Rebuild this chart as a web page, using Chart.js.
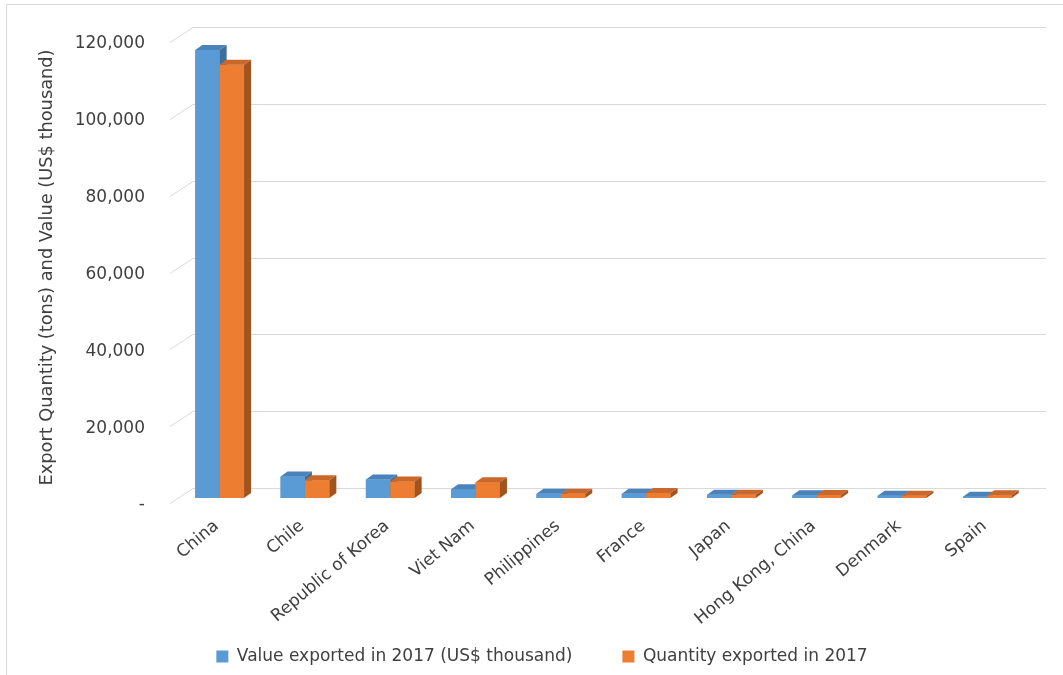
<!DOCTYPE html>
<html>
<head>
<meta charset="utf-8">
<script src="https://cdn.jsdelivr.net/npm/chart.js@4.4.0/dist/chart.umd.min.js"></script>
<style>
  html, body { margin: 0; padding: 0; background: #fff; }
</style>
</head>
<body>
<canvas id="exportChart" width="1063" height="675"></canvas>
<script>
const countries = ["China", "Chile", "Republic of Korea", "Viet Nam", "Philippines",
  "France", "Japan", "Hong Kong, China", "Denmark", "Spain"];
const valueExported = [116600, 5600, 4800, 2300, 1100, 1100, 850, 700, 600, 350];
const quantityExported = [112800, 4600, 4300, 4100, 1100, 1300, 850, 750, 600, 700];
const yTickValues = [0, 20000, 40000, 60000, 80000, 100000, 120000];
const yTickLabels = ["-", "20,000", "40,000", "60,000", "80,000", "100,000", "120,000"];

const textColor = "#404040";
const font = { family: "DejaVu Sans", size: 17 };

// darker faces for the fake 3d look, one entry per dataset
const faces = [
  { front: "#5b9bd5", top: "#4a82bb", side: "#3f6e9c" },
  { front: "#ed7d31", top: "#c9682a", side: "#a3531d" }
];
const barDx = 7, barDy = 5;

const frame = {
  id: "frame",
  beforeDraw(chart) {
    const ctx = chart.ctx;
    ctx.save();
    ctx.strokeStyle = "#d9d9d9";
    ctx.lineWidth = 1;
    ctx.beginPath();
    ctx.moveTo(6.5, chart.height);
    ctx.lineTo(6.5, 4.5);
    ctx.lineTo(chart.width, 4.5);
    ctx.stroke();
    ctx.restore();
  }
};

// grid lines sit on the back wall, with a slanted piece on the side wall
const wallGrid = {
  id: "wallGrid",
  beforeDatasetsDraw(chart) {
    const ctx = chart.ctx;
    const area = chart.chartArea;
    const yScale = chart.scales.y;
    ctx.save();
    ctx.strokeStyle = "#d9d9d9";
    ctx.lineWidth = 1;
    yTickValues.forEach(v => {
      const py = Math.round(yScale.getPixelForValue(v)) + 0.5;
      ctx.beginPath();
      ctx.moveTo(area.left - 7, py + 5);
      ctx.lineTo(area.left + 16, py - 10);
      ctx.lineTo(area.right + 16, py - 10);
      ctx.stroke();
    });
    ctx.restore();
  }
};

const bar3d = {
  id: "bar3d",
  afterDatasetsDraw(chart) {
    const ctx = chart.ctx;
    const metas = chart.data.datasets.map((d, i) => chart.getDatasetMeta(i));
    ctx.save();
    for (let j = 0; j < chart.data.labels.length; j++) {
      metas.forEach((meta, i) => {
        const p = meta.data[j].getProps(["x", "y", "base", "width"], true);
        const l = p.x - p.width / 2;
        const r = p.x + p.width / 2;
        const f = faces[i];

        ctx.fillStyle = f.front;
        ctx.fillRect(l, p.y, p.width, p.base - p.y);

        ctx.fillStyle = f.top;
        ctx.beginPath();
        ctx.moveTo(l, p.y);
        ctx.lineTo(l + barDx, p.y - barDy);
        ctx.lineTo(r + barDx, p.y - barDy);
        ctx.lineTo(r, p.y);
        ctx.closePath();
        ctx.fill();

        ctx.fillStyle = f.side;
        ctx.beginPath();
        ctx.moveTo(r, p.y);
        ctx.lineTo(r + barDx, p.y - barDy);
        ctx.lineTo(r + barDx, p.base - barDy);
        ctx.lineTo(r, p.base);
        ctx.closePath();
        ctx.fill();
      });
    }
    ctx.restore();
  }
};

// legend is kept short so the x labels get room; move it up and right a bit
const legendShift = {
  id: "legendShift",
  afterLayout(chart) {
    chart.legend.left += 27;
    chart.legend.right += 27;
    chart.legend.top -= 27;
  }
};

new Chart(document.getElementById("exportChart"), {
  type: "bar",
  data: {
    labels: countries,
    datasets: [
      {
        label: "Value exported in 2017 (US$ thousand)",
        data: valueExported,
        backgroundColor: faces[0].front
      },
      {
        label: "Quantity exported in 2017",
        data: quantityExported,
        backgroundColor: faces[1].front
      }
    ]
  },
  options: {
    responsive: false,
    devicePixelRatio: 1,
    animation: false,
    layout: {
      padding: { left: 0, right: 33, top: 37, bottom: 0 }
    },
    datasets: {
      bar: {
        categoryPercentage: 0.572,
        barPercentage: 1.0
      }
    },
    plugins: {
      tooltip: { enabled: false },
      legend: {
        position: "bottom",
        maxHeight: 50,
        labels: {
          color: textColor,
          font: font,
          boxWidth: 12,
          boxHeight: 12,
          padding: 50
        }
      }
    },
    scales: {
      x: {
        grid: { display: false, drawTicks: false },
        border: { display: false },
        ticks: {
          color: textColor,
          font: font,
          minRotation: 40,
          maxRotation: 40,
          padding: 18,
          labelOffset: -3,
          autoSkip: false
        },
        afterFit(scale) { scale.height = 127; }
      },
      y: {
        min: 0,
        max: 120000,
        grid: { display: false, drawTicks: false },
        border: { display: false },
        afterBuildTicks(scale) {
          scale.ticks = yTickValues.map(v => ({ value: v }));
        },
        ticks: {
          color: textColor,
          font: font,
          padding: 32,
          labelOffset: 7,
          callback: (v, i) => yTickLabels[i]
        },
        title: {
          display: true,
          text: "Export Quantity (tons) and Value (US$ thousand)",
          color: textColor,
          font: { family: "DejaVu Sans", size: 17.8 },
          padding: { top: 37, bottom: 0 }
        },
        afterFit(scale) {
          scale.width = 177;
          // the big tick padding should not push the plot down
          scale.paddingTop = 10;
          scale.paddingBottom = 10;
        }
      }
    }
  },
  plugins: [frame, wallGrid, bar3d, legendShift]
});
</script>
</body>
</html>
